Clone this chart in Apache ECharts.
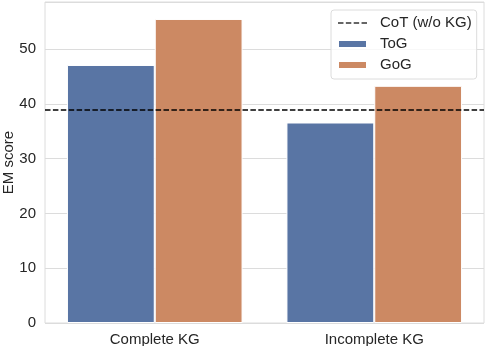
<!DOCTYPE html>
<html>
<head>
<meta charset="utf-8">
<script src="https://cdn.jsdelivr.net/npm/echarts@6/dist/echarts.min.js"></script>
<style>
	html,body{margin:0;padding:0;background:#fff;}
	#chart{width:486px;height:346px;}
</style>
</head>
<body>
<div id="chart"></div>
<script>
	var categories = ['Complete KG', 'Incomplete KG'];
	var togValues = [47.1, 36.6];
	var gogValues = [55.5, 43.3];
	var cotValue = 38.9;
	var seriesNames = ['CoT (w/o KG)', 'ToG', 'GoG'];

	var textColor = '#262626';
	var lineColor = '#dcdcdc';
	var dashIcon = 'path://M0,0h5.5v1.6h-5.5z M7.9,0h5.5v1.6h-5.5z M15.8,0h5.5v1.6h-5.5z M23.7,0h5.5v1.6h-5.5z';

	var myChart = echarts.init(document.getElementById('chart'));
	var option = {
		animation: false,
		textStyle: {fontFamily: 'Liberation Sans, Arial, sans-serif'},
		grid: {
			left: 45, right: 2, top: 2, bottom: 23,
			outerBoundsMode: 'none',
			containLabel: false,
			show: true, borderColor: lineColor, borderWidth: 1
		},
		legend: {
			data: [
				{name: seriesNames[0], icon: dashIcon},
				{name: seriesNames[1], icon: 'rect'},
				{name: seriesNames[2], icon: 'rect'}
			],
			orient: 'vertical',
			left: 331, top: 10,
			width: 145,
			itemWidth: 29, itemHeight: 8, itemGap: 5,
			padding: [5, 5, 6, 6],
			borderColor: lineColor, borderWidth: 1, borderRadius: 3,
			backgroundColor: 'rgba(255,255,255,0.8)',
			textStyle: {fontSize: 15, color: textColor, padding: [0, 0, 0, 8], lineHeight: 16}
		},
		xAxis: {
			type: 'category',
			data: categories,
			axisLine: {show: false},
			axisTick: {show: false},
			splitLine: {show: false},
			axisLabel: {fontSize: 15, color: textColor, margin: 9}
		},
		yAxis: {
			type: 'value',
			min: 0, max: 58.6, interval: 10,
			name: 'EM score',
			nameLocation: 'middle',
			nameGap: 29,
			nameMoveOverlap: false,
			nameTextStyle: {fontSize: 15, color: textColor},
			axisLine: {show: false},
			axisTick: {show: false},
			splitLine: {lineStyle: {color: lineColor, width: 1}},
			axisLabel: {
				fontSize: 15, color: textColor, margin: 9,
				showMaxLabel: false,
				formatter: function(v){ return v % 10 === 0 ? v : ''; }
			}
		},
		series: [
			{
				name: seriesNames[0],
				type: 'scatter',
				data: [],
				itemStyle: {color: '#000'},
				markLine: {
					silent: true,
					symbol: 'none',
					label: {show: false},
					lineStyle: {color: '#000', width: 1.5, type: [5.5, 2.4]},
					data: [{yAxis: cotValue}]
				}
			},
			{
				name: seriesNames[1],
				type: 'bar',
				data: togValues,
				barGap: 0,
				barCategoryGap: '20%',
				itemStyle: {color: '#5975a4', borderColor: '#fff', borderWidth: 1}
			},
			{
				name: seriesNames[2],
				type: 'bar',
				data: gogValues,
				itemStyle: {color: '#cc8963', borderColor: '#fff', borderWidth: 1}
			}
		]
	};
	myChart.setOption(option);
</script>
</body>
</html>
